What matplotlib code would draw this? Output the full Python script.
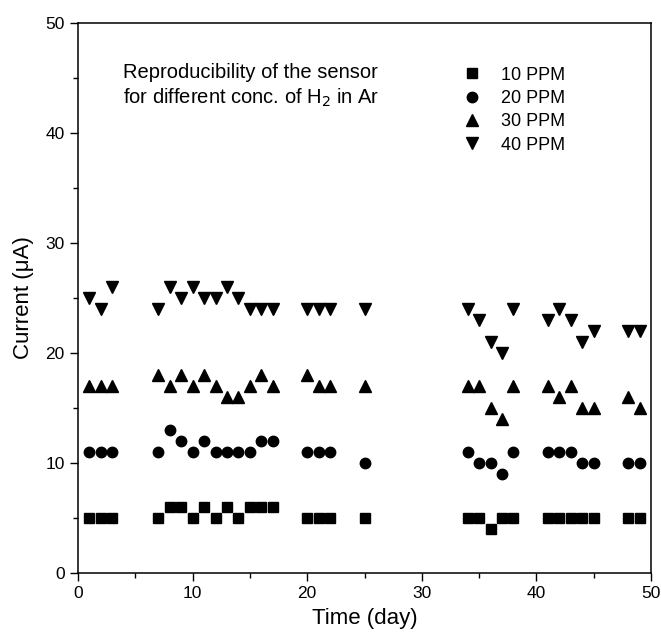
import numpy as np
import matplotlib
matplotlib.use("Agg")
import matplotlib.pyplot as plt
from matplotlib.ticker import MultipleLocator

plt.rcParams['font.family'] = ['Liberation Sans', 'DejaVu Sans']

# days on which each concentration was measured
days = [1, 2, 3, 7, 8, 9, 10, 11, 12, 13, 14, 15, 16, 17, 20, 21, 22, 25,
        34, 35, 36, 37, 38, 41, 42, 43, 44, 45, 48, 49]

ppm10 = [5, 5, 5, 5, 6, 6, 5, 6, 5, 6, 5, 6, 6, 6, 5, 5, 5, 5,
         5, 5, 4, 5, 5, 5, 5, 5, 5, 5, 5, 5]
ppm20 = [11, 11, 11, 11, 13, 12, 11, 12, 11, 11, 11, 11, 12, 12, 11, 11, 11, 10,
         11, 10, 10, 9, 11, 11, 11, 11, 10, 10, 10, 10]
ppm30 = [17, 17, 17, 18, 17, 18, 17, 18, 17, 16, 16, 17, 18, 17, 18, 17, 17, 17,
         17, 17, 15, 14, 17, 17, 16, 17, 15, 15, 16, 15]
ppm40 = [25, 24, 26, 24, 26, 25, 26, 25, 25, 26, 25, 24, 24, 24, 24, 24, 24, 24,
         24, 23, 21, 20, 24, 23, 24, 23, 21, 22, 22, 22]

labels = ['10 PPM', '20 PPM', '30 PPM', '40 PPM']

fig = plt.figure(figsize=(6.61, 6.38), dpi=100)
ax = fig.add_axes([78/661, 65/638, 573/661, 550/638])

ax.plot(days, ppm10, 's', color='black', markersize=7, label=labels[0])
ax.plot(days, ppm20, 'o', color='black', markersize=7.5, label=labels[1])
ax.plot(days, ppm30, '^', color='black', markersize=8, label=labels[2])
ax.plot(days, ppm40, 'v', color='black', markersize=8, label=labels[3])

ax.set_xlim(0, 50)
ax.set_ylim(0, 50)
ax.xaxis.set_major_locator(MultipleLocator(10))
ax.xaxis.set_minor_locator(MultipleLocator(5))
ax.yaxis.set_major_locator(MultipleLocator(10))
ax.yaxis.set_minor_locator(MultipleLocator(5))
ax.tick_params(which='major', direction='out', length=6, width=1, labelsize=12.5)
ax.tick_params(which='minor', direction='out', length=3.5, width=1)
for s in ax.spines.values():
    s.set_linewidth(1.1)

ax.set_xlabel('Time (day)', fontsize=16, labelpad=5)
ax.set_ylabel('Current (\u03bcA)', fontsize=16, labelpad=8)

ax.text(3.9, 45.5, 'Reproducibility of the sensor', fontsize=14.5, va='center')
ax.text(3.9, 43.2, 'for different conc. of H$_2$ in Ar', fontsize=14.5, va='center')

ax.legend(loc='upper left', bbox_to_anchor=(0.636, 0.95), frameon=False,
          fontsize=13, handletextpad=0.85, labelspacing=0.35, handlelength=1.5)

fig.savefig('out.png', dpi=100)
